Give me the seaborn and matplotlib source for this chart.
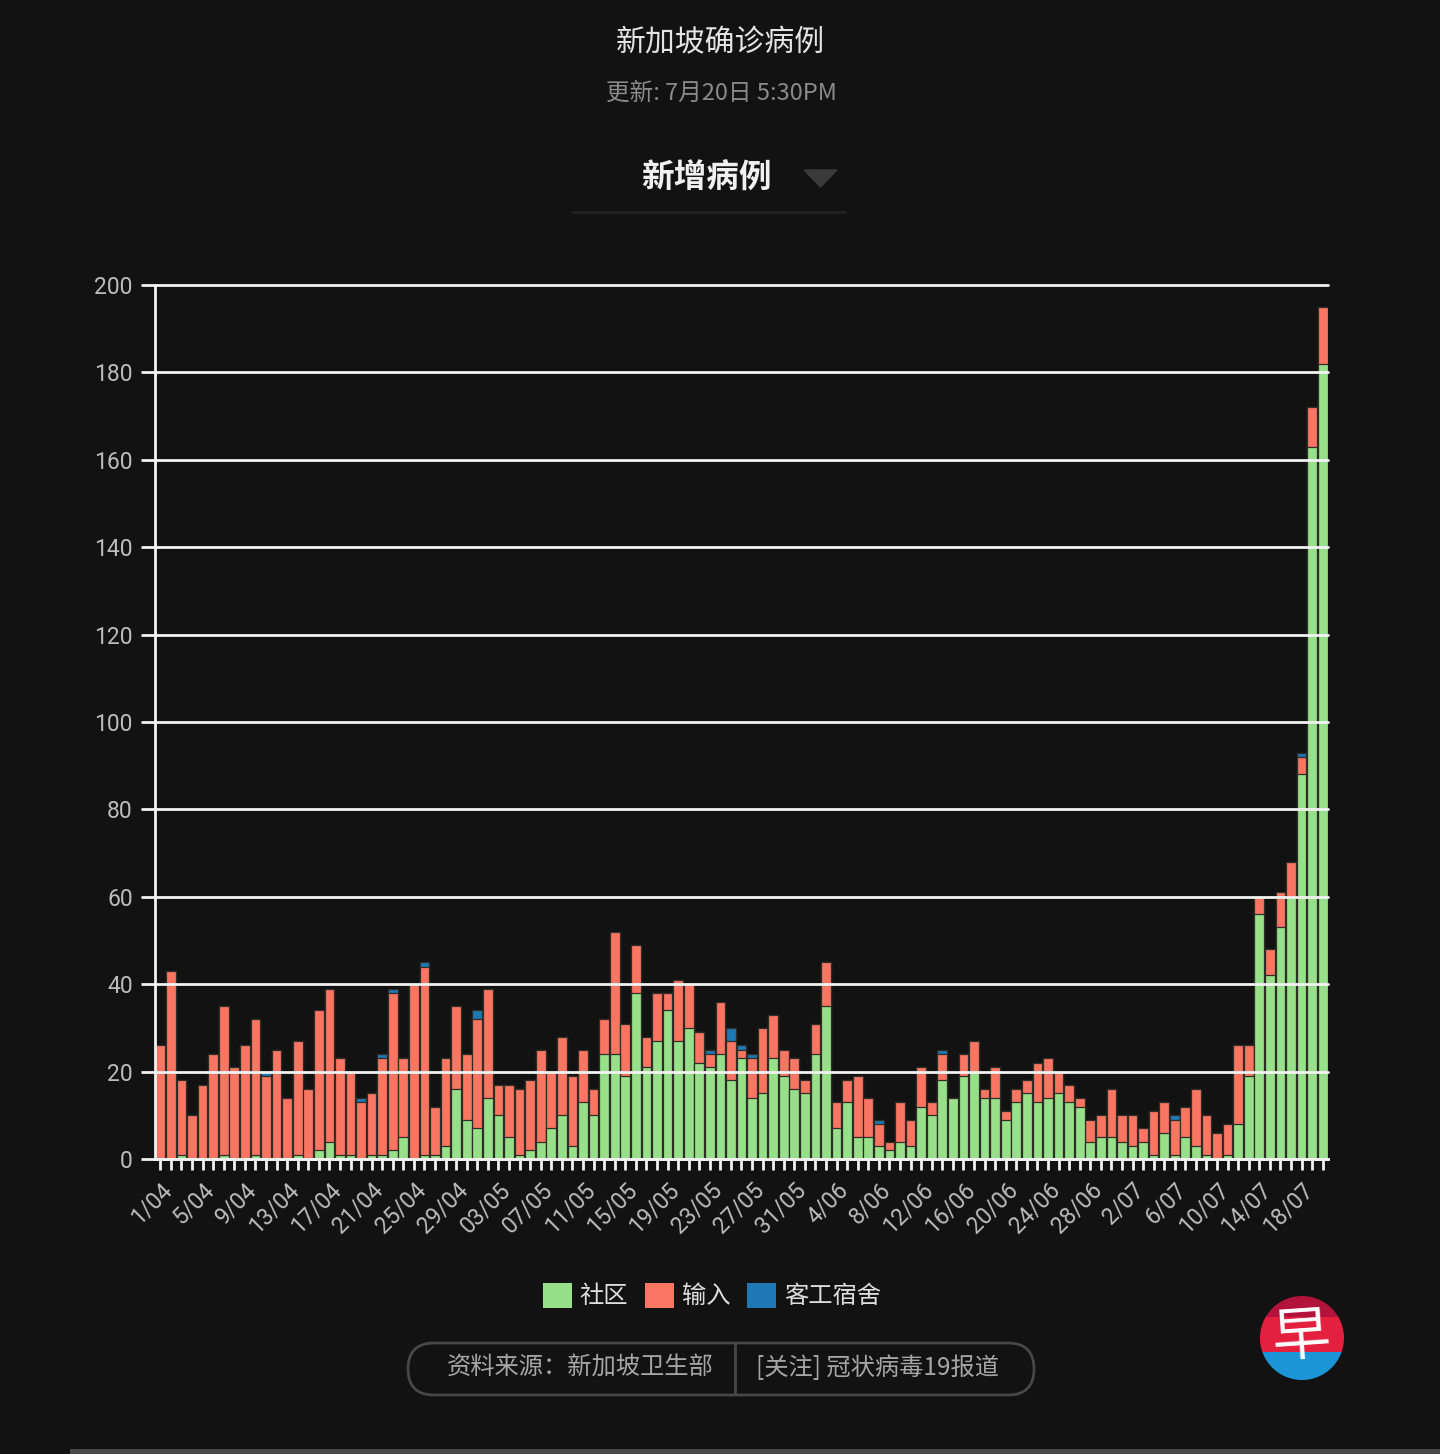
import numpy as np
import pandas as pd
import matplotlib
matplotlib.use("Agg")
import matplotlib.pyplot as plt
import seaborn as sns
from matplotlib.patches import Patch, FancyBboxPatch, Circle, Rectangle, Polygon

# ---------------- data ----------------
dates = pd.date_range("2020-04-01", "2020-07-20", freq="D")
day_labels = [f"{d.day}/{d.month:02d}" for d in dates]

community = [0, 0, 1, 0, 0, 0, 1, 0, 0, 1, 0, 0, 0, 1, 0, 2, 4, 1, 1, 0,
             1, 1, 2, 5, 0, 1, 1, 3, 16, 9, 7, 14, 10, 5, 1, 2, 4, 7, 10, 3,
             13, 10, 24, 24, 19, 38, 21, 27, 34, 27, 30, 22, 21, 24, 18, 23, 14, 15, 23, 19,
             16, 15, 24, 35, 7, 13, 5, 5, 3, 2, 4, 3, 12, 10, 18, 14, 19, 20, 14, 14,
             9, 13, 15, 13, 14, 15, 13, 12, 4, 5, 5, 4, 3, 4, 1, 6, 1, 5, 3, 1,
             0, 1, 8, 19, 56, 42, 53, 60, 88, 163, 182]
imported = [26, 43, 17, 10, 17, 24, 34, 21, 26, 31, 19, 25, 14, 26, 16, 32, 35, 22, 19, 13,
            14, 22, 36, 18, 40, 43, 11, 20, 19, 15, 25, 25, 7, 12, 15, 16, 21, 13, 18, 16,
            12, 6, 8, 28, 12, 11, 7, 11, 4, 14, 10, 7, 3, 12, 9, 2, 9, 15, 10, 6,
            7, 3, 7, 10, 6, 5, 14, 9, 5, 2, 9, 6, 9, 3, 6, 0, 5, 7, 2, 7,
            2, 3, 3, 9, 9, 5, 4, 2, 5, 5, 11, 6, 7, 3, 10, 7, 8, 7, 13, 9,
            6, 7, 18, 7, 4, 6, 8, 8, 4, 9, 13]
dormitory = [0, 0, 0, 0, 0, 0, 0, 0, 0, 0, 1, 0, 0, 0, 0, 0, 0, 0, 0, 1,
             0, 1, 1, 0, 0, 1, 0, 0, 0, 0, 2, 0, 0, 0, 0, 0, 0, 0, 0, 0,
             0, 0, 0, 0, 0, 0, 0, 0, 0, 0, 0, 0, 1, 0, 3, 1, 1, 0, 0, 0,
             0, 0, 0, 0, 0, 0, 0, 0, 1, 0, 0, 0, 0, 0, 1, 0, 0, 0, 0, 0,
             0, 0, 0, 0, 0, 0, 0, 0, 0, 0, 0, 0, 0, 0, 0, 0, 1, 0, 0, 0,
             0, 0, 0, 0, 0, 0, 0, 0, 1, 0, 0]

tick_labels = ["1/04", "5/04", "9/04", "13/04", "17/04", "21/04", "25/04", "29/04",
               "03/05", "07/05", "11/05", "15/05", "19/05", "23/05", "27/05", "31/05",
               "4/06", "8/06", "12/06", "16/06", "20/06", "24/06", "28/06",
               "2/07", "6/07", "10/07", "14/07", "18/07"]
tick_step = 4
yticks = [0, 20, 40, 60, 80, 100, 120, 140, 160, 180, 200]

series_names = ["社区", "输入", "客工宿舍"]
GREEN, RED, BLUE = "#98df8a", "#fb7563", "#1f77b4"
BG = "#121212"

df = pd.DataFrame({"date": day_labels, "社区": community, "输入": imported, "客工宿舍": dormitory})
df["top_c"] = df["社区"]
df["top_i"] = df["社区"] + df["输入"]
df["top_d"] = df["top_i"] + df["客工宿舍"]

# ---------------- style ----------------
sns.set_style("dark")
plt.rcParams["font.family"] = ["Noto Sans CJK SC", "DejaVu Sans"]
plt.rcParams["axes.facecolor"] = BG
plt.rcParams["figure.facecolor"] = BG

W, H = 1440, 1454
fig = plt.figure(figsize=(W / 100, H / 100), dpi=100, facecolor=BG)

# overlay in pixel coordinates for decorations
ov = fig.add_axes([0, 0, 1, 1])
ov.set_xlim(0, W)
ov.set_ylim(H, 0)
ov.axis("off")
ov.set_facecolor(BG)

ax = fig.add_axes([155 / W, (H - 1159) / H, 1173 / W, 874 / H])
ax.set_facecolor("none")

edge = "#2e2e26"
for col, colr in [("top_d", BLUE), ("top_i", RED), ("top_c", GREEN)]:
    sns.barplot(data=df, x="date", y=col, color=colr, saturation=1, width=0.92,
                edgecolor=edge, linewidth=0.9, ax=ax, zorder=2)

ax.set_ylim(0, 200)
ax.set_xlim(-0.5, len(df) - 0.5)
ax.set_xlabel("")
ax.set_ylabel("")
ax.set_yticks(yticks)
ax.set_yticklabels([str(v) for v in yticks], fontfamily="Roboto", fontsize=16.5, color="#bcbcbc")
ax.grid(axis="y", color="#f2f2f2", linewidth=2, zorder=3)
ax.grid(axis="x", visible=False)
ax.set_axisbelow(False)
for gl in ax.get_ygridlines():
    gl.set_zorder(3)
    gl.set_clip_on(False)

ax.set_xticks(range(len(df)))
labels_all = [""] * len(df)
for k, lab in enumerate(tick_labels):
    labels_all[k * tick_step] = lab
ax.set_xticklabels(labels_all, rotation=45, ha="right", rotation_mode="anchor",
                   fontfamily="Roboto", fontsize=16.5, color="#bcbcbc")
ax.tick_params(axis="x", bottom=True, colors="#f2f2f2", length=8, width=2, pad=6,
               labelcolor="#bcbcbc", direction="out")
ax.tick_params(axis="y", left=True, colors="#f2f2f2", length=10, width=2, pad=6,
               labelcolor="#bcbcbc", direction="out")

for s in ["top", "right"]:
    ax.spines[s].set_visible(False)
ax.spines["left"].set_color("#f2f2f2")
ax.spines["left"].set_linewidth(2)
ax.spines["left"].set_zorder(4)
ax.spines["bottom"].set_color("#f2f2f2")
ax.spines["bottom"].set_linewidth(2)
ax.spines["bottom"].set_zorder(4)

# ---------------- titles ----------------
ov.text(720, 43, "新加坡确诊病例", ha="center", va="center", fontsize=21.5, color="#e4e4e4")
ov.text(721, 93, "更新: 7月20日 5:30PM", ha="center", va="center", fontsize=17, color="#8a8a8a")
ov.text(706, 178, "新增病例", ha="center", va="center", fontsize=23.5, fontweight="bold", color="#f0f0f0")
ov.add_patch(Polygon([(804, 170), (837, 170), (820.5, 187)], closed=True, color="#3a3a3a"))
ov.plot([572, 845], [212, 212], color="#222222", lw=2)

# ---------------- legend ----------------
handles = [Patch(facecolor=c, edgecolor="none") for c in (GREEN, RED, BLUE)]
fig.legend(handles, series_names, loc="center", bbox_to_anchor=(712 / W, 1 - 1296 / H), ncol=3,
           frameon=False, fontsize=17.5, labelcolor="#dedede", handlelength=1.2, handleheight=1.2,
           handletextpad=0.3, columnspacing=0.7)

# ---------------- footer ----------------
ov.add_patch(FancyBboxPatch((408, 1343), 626, 52, boxstyle="round,pad=0,rounding_size=26",
                            fc="none", ec="#474747", lw=2))
ov.plot([735, 735], [1344, 1394], color="#474747", lw=2)
ov.text(580, 1368, "资料来源：新加坡卫生部", ha="center", va="center", fontsize=17.5, color="#a6a6a6")
ov.text(878, 1368, "[关注] 冠状病毒19报道", ha="center", va="center", fontsize=17.5, color="#a6a6a6")

# ---------------- logo ----------------
circ = Circle((1302, 1338), 42, transform=ov.transData, fc="none", ec="none")
ov.add_patch(circ)
for y0, y1, c in [(1290, 1317, "#b3123a"), (1317, 1352, "#e4203f"), (1352, 1385, "#1b95d6")]:
    r = Rectangle((1255, y0), 95, y1 - y0, fc=c, ec="none")
    ov.add_patch(r)
    r.set_clip_path(circ)
ov.text(1301, 1338, "早", ha="center", va="center", fontsize=42, fontweight="medium",
        color="white", rotation=4)

# bottom strip
ov.add_patch(Rectangle((70, 1449), 1370, 5, fc="#4a4a4a", ec="none"))

fig.savefig("out.png", dpi=100, facecolor=BG)
